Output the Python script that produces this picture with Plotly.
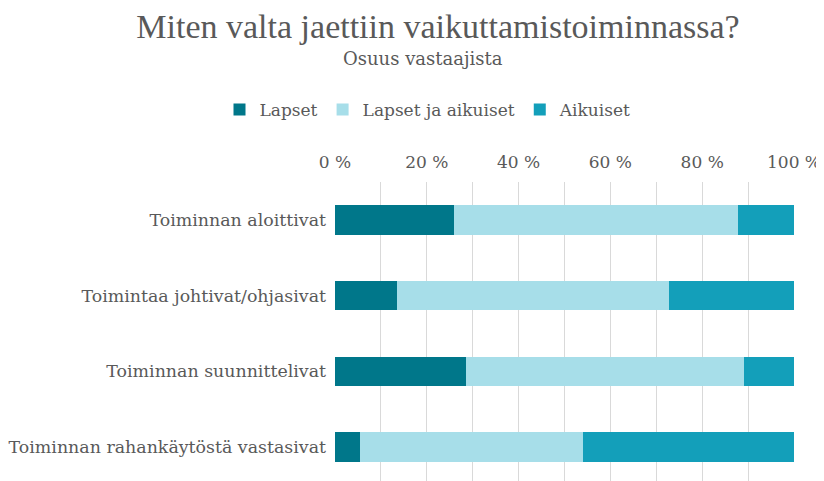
import plotly.graph_objects as go

categories = ["Toiminnan aloittivat", "Toimintaa johtivat/ohjasivat",
              "Toiminnan suunnittelivat", "Toiminnan rahankäytöstä vastasivat"]
lapset = [26.0, 13.6, 28.6, 5.4]
lapset_ja_aikuiset = [61.8, 59.1, 60.5, 48.7]
aikuiset = [12.2, 27.3, 10.9, 45.9]
series_names = ["Lapset", "Lapset ja aikuiset", "Aikuiset"]
colors = ["#00778A", "#A7DEE9", "#139FBA"]
tick_vals = [0, 20, 40, 60, 80, 100]
tick_text = ["0 %", "20 %", "40 %", "60 %", "80 %", "100 %"]

FONT = "DejaVu Serif"
TFONT = "Liberation Serif"
GREY = "#595959"

fig = go.Figure()
for name, vals, col in zip(series_names, [lapset, lapset_ja_aikuiset, aikuiset], colors):
    fig.add_trace(go.Bar(y=categories, x=vals, name=name, orientation="h",
                         marker=dict(color=col, line=dict(width=0)), width=0.39))

# page body has an 8px offset; work in figure coordinates
OX, OY = 8, 8
W, H = 816, 473
L = 335 - OX
R = W + OX - 794
T = 182 - OY
B = 0
ph = H - T - B
pw = W - L - R

fig.update_layout(
    width=W, height=H, barmode="stack",
    paper_bgcolor="white", plot_bgcolor="white",
    margin=dict(l=L, r=R, t=T, b=B, autoexpand=False),
    font=dict(family=FONT, color=GREY, size=17),
    title=dict(text="Miten valta jaettiin vaikuttamistoiminnassa?",
               x=(438 - OX) / W, xanchor="center", y=1 - (26 - OY) / H, yanchor="middle",
               font=dict(size=34, color=GREY, family=TFONT)),
    legend=dict(orientation="h", x=(428 - OX - L) / pw, xanchor="center",
                y=(H - B - (110 - OY)) / ph, yanchor="middle",
                font=dict(size=17, color=GREY), traceorder="normal", itemwidth=30),
    showlegend=True,
)
fig.add_annotation(text="Osuus vastaajista", xref="paper", yref="paper",
                   x=(423 - OX - L) / pw, y=(H - B - (58 - OY)) / ph,
                   xanchor="center", yanchor="middle", showarrow=False,
                   font=dict(size=18, color=GREY, family=FONT))
fig.update_xaxes(range=[0, 100], side="top", tickmode="array",
                 tickvals=tick_vals, ticktext=tick_text,
                 showgrid=True, gridcolor="#D9D9D9", gridwidth=1,
                 minor=dict(tickmode="linear", tick0=0, dtick=10, showgrid=True,
                            gridcolor="#D9D9D9", gridwidth=1),
                 zeroline=False, showline=False, ticks="", automargin=False,
                 ticklabelstandoff=10,
                 tickfont=dict(size=17, color=GREY), fixedrange=True)
fig.update_yaxes(range=[3.449, -0.5], showgrid=False, ticks="", showline=False,
                 automargin=False, ticklabelstandoff=8,
                 tickfont=dict(size=17.4, color=GREY))

fig.write_html("out.html")
